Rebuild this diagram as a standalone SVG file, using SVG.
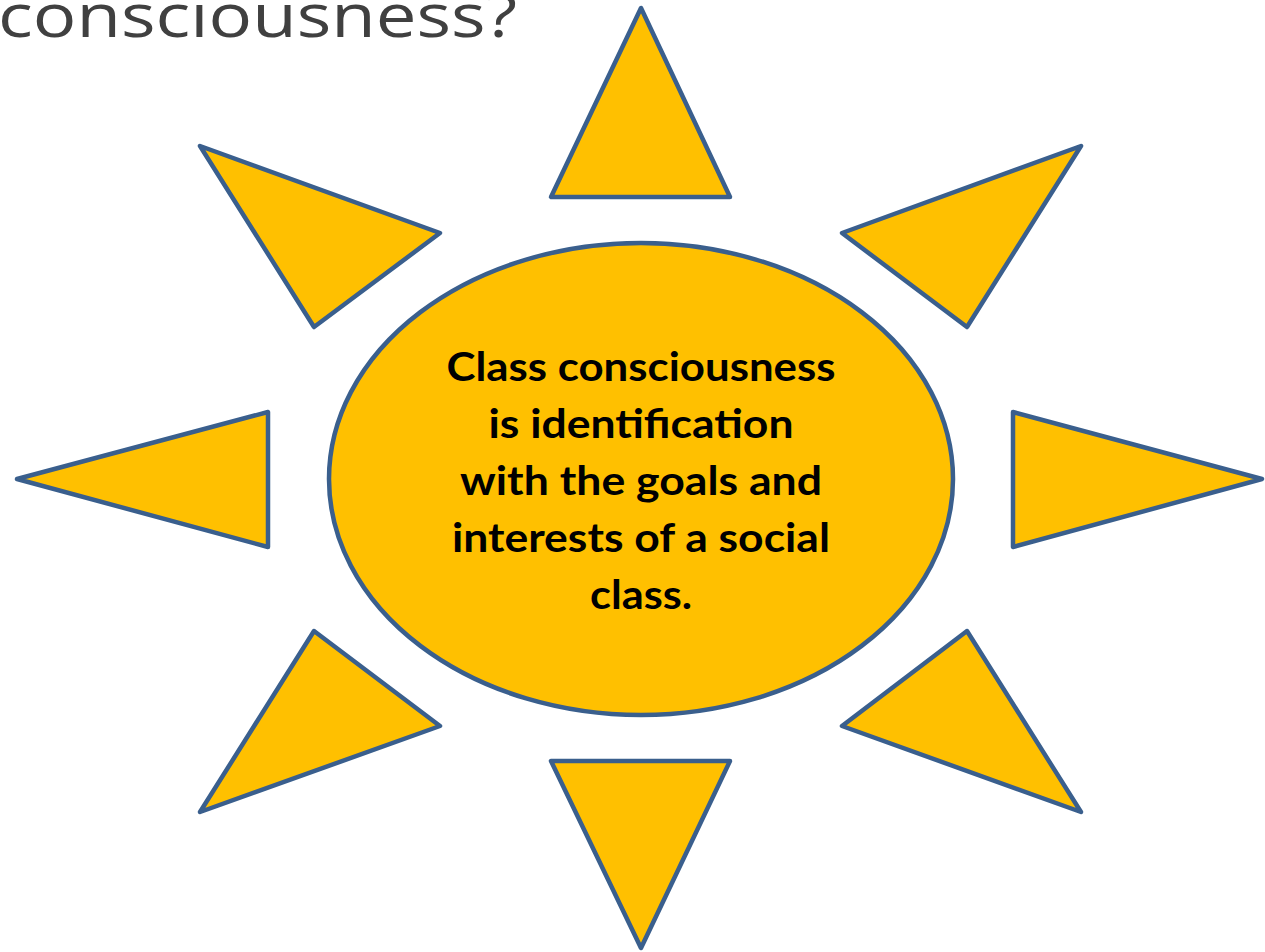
<svg xmlns="http://www.w3.org/2000/svg" width="1265" height="952" viewBox="0 0 1265 952">
<style>
.ray{fill:#FFC000;stroke:#3A5F8D;stroke-width:4.5;stroke-linejoin:round}
.body{font-family:Lato,"Open Sans",sans-serif;font-weight:bold;font-size:40px;fill:#000;text-anchor:middle}
.title{font-family:"Open Sans",Lato,sans-serif;font-size:60px;fill:#404040}
</style>
<rect width="1265" height="952" fill="#fff"/>
<text class="title" x="-2" y="37" textLength="519" lengthAdjust="spacingAndGlyphs">consciousness?</text>
<g id="rays">
<polygon id="ray-top" class="ray" points="641,8 551,197 730,197"/>
<polygon id="ray-bottom" class="ray" points="551,761 730,761 641,948"/>
<polygon id="ray-left" class="ray" points="17,479 268,412 268,547"/>
<polygon id="ray-right" class="ray" points="1013,412 1262,479 1013,547"/>
<polygon id="ray-tl" class="ray" points="200,146 440,233 314,327"/>
<polygon id="ray-tr" class="ray" points="1081,146 842,233 967,327"/>
<polygon id="ray-bl" class="ray" points="314,631 440,726 200,812"/>
<polygon id="ray-br" class="ray" points="967,631 842,726 1081,812"/>
</g>
<g id="center">
<ellipse class="ray" cx="641" cy="479" rx="312" ry="236"/>
<text class="body" x="641" y="381" textLength="389" lengthAdjust="spacingAndGlyphs">Class consciousness</text>
<text class="body" x="641" y="438" textLength="305" lengthAdjust="spacingAndGlyphs">is identification</text>
<text class="body" x="641" y="495" textLength="362" lengthAdjust="spacingAndGlyphs">with the goals and</text>
<text class="body" x="641" y="552" textLength="378" lengthAdjust="spacingAndGlyphs">interests of a social</text>
<text class="body" x="641" y="609" textLength="102" lengthAdjust="spacingAndGlyphs">class.</text>
</g>
</svg>
